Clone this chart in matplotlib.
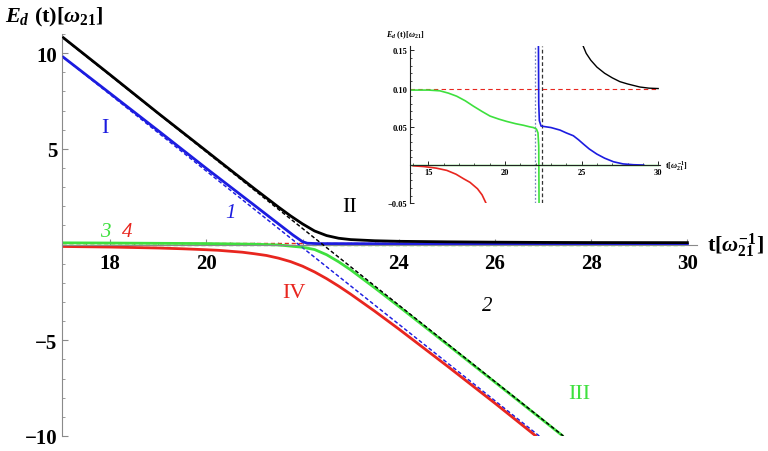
import matplotlib
matplotlib.use("Agg")
import matplotlib.pyplot as plt
from matplotlib.ticker import MultipleLocator

# ── colours ────────────────────────────────────────────────────────────────
BLUE = "#1c1ce0"
GREEN = "#3ee03e"
RED = "#e8261f"
BLACK = "#000000"
AXC = "#8a8a8a"

# ── main panel: levels ─────────────────────────────────────────────────────
t_I = [17.0, 18.0, 19.0, 20.0, 21.0, 21.5, 21.8, 22.0, 22.1, 22.3, 23.0, 24.0, 25.0, 26.0, 27.0, 28.0, 30.0]
E_I = [9.84, 7.90, 5.95, 3.98, 2.05, 1.08, 0.50, 0.15, 0.07, 0.05, 0.047, 0.04, 0.028, 0.013, 0.004, 0.001, 0.0]

t_II = [17.0, 18.0, 19.0, 20.0, 20.5, 21.0, 21.5, 21.75, 22.0, 22.25, 22.5, 22.75, 23.0, 23.5, 24.0, 25.0, 26.0, 27.0, 28.0, 30.0]
E_II = [10.86, 8.87, 6.86, 4.89, 3.90, 2.92, 1.96, 1.50, 1.08, 0.71, 0.47, 0.33, 0.26, 0.20, 0.17, 0.143, 0.125, 0.112, 0.105, 0.10]

t_III = [17.0, 18.0, 19.0, 20.0, 21.0, 21.5, 22.0, 22.25, 22.5, 22.75, 23.0, 23.5, 24.0, 25.0, 26.0, 27.0, 27.4]
E_III = [0.09, 0.08, 0.065, 0.052, 0.018, -0.02, -0.14, -0.26, -0.53, -0.90, -1.32, -2.26, -3.23, -5.20, -7.19, -9.18, -9.98]

t_IV = [17.0, 18.0, 19.0, 19.5, 20.0, 20.25, 20.5, 20.75, 21.0, 21.25, 21.5, 21.75, 22.0, 22.25, 22.5, 22.75,
        23.0, 23.5, 24.0, 25.0, 26.0, 26.85]
E_IV = [-0.10, -0.13, -0.18, -0.22, -0.27, -0.30, -0.35, -0.40, -0.48, -0.57, -0.71, -0.89, -1.13, -1.43, -1.78,
        -2.17, -2.59, -3.48, -4.41, -6.33, -8.29, -10.0]

# diabatic asymptotes (dashed)
t_1 = [17.0, 26.92]
E_1 = [9.84, -10.0]
t_2 = [17.0, 27.42]
E_2 = [10.84, -10.0]
t_34 = [17.0, 30.0]
E_3 = [0.0, 0.0]
E_4 = [0.1, 0.1]

# ── inset ──────────────────────────────────────────────────────────────────
in_t_green = [13.8, 15.0, 15.75, 16.3, 16.84, 17.4, 17.93, 18.5, 19.02, 19.6, 20.11, 20.7, 21.2, 21.6,
              21.85, 22.05, 22.15, 22.2, 22.22]
in_E_green = [0.098, 0.098, 0.097, 0.094, 0.090, 0.084, 0.077, 0.070, 0.064, 0.060, 0.057, 0.054, 0.052, 0.050,
              0.049, 0.047, 0.042, 0.025, -0.05]
in_t_blue = [22.18, 22.2, 22.24, 22.35, 22.5, 23.0, 23.59, 24.0, 24.46, 24.8, 25.12, 25.5, 25.99, 26.5, 27.08,
             27.7, 28.39, 29.05]
in_E_blue = [0.155, 0.08, 0.058, 0.051, 0.0505, 0.049, 0.0457, 0.042, 0.0383, 0.033, 0.0274, 0.021, 0.0144,
             0.009, 0.0043, 0.0015, 0.0004, 0.0]
in_t_black = [25.05, 25.3, 25.6, 26.0, 26.5, 27.0, 27.5, 28.0, 28.8, 29.4, 30.0]
in_E_black = [0.158, 0.146, 0.137, 0.128, 0.120, 0.114, 0.109, 0.106, 0.102, 0.1005, 0.100]
in_t_red = [14.0, 14.7, 15.5, 16.2, 16.8, 17.3, 17.71, 18.2, 18.5, 18.76]
in_E_red = [-0.001, -0.002, -0.004, -0.007, -0.012, -0.018, -0.0226, -0.031, -0.039, -0.05]
in_t_lev = [13.8, 30.0]
in_v1 = 21.96
in_v2 = 22.4

plt.rcParams["mathtext.fontset"] = "custom"
plt.rcParams["mathtext.rm"] = "Liberation Serif:bold"
plt.rcParams["mathtext.it"] = "Liberation Serif:bold:italic"
plt.rcParams["mathtext.bf"] = "Liberation Serif:bold"
SERIF = "Liberation Serif"

fig = plt.figure(figsize=(7.68, 4.52), dpi=100)
ax = fig.add_axes([0.0807, 0.0332, 0.8269, 0.8894])

ax.plot(t_34, E_3, color=GREEN, lw=1.0, ls=(0, (3, 2)))
ax.plot(t_34, E_4, color=RED, lw=1.0, ls=(0, (3, 2)))
ax.plot(t_1, E_1, color=BLUE, lw=0.9, ls=(0, (3, 2)))
ax.plot(t_2, E_2, color=BLACK, lw=0.9, ls=(0, (3, 2)), zorder=4)
ax.plot(t_I, E_I, color=BLUE, lw=2.0)
ax.plot(t_II, E_II, color=BLACK, lw=2.0)
ax.plot(t_III, E_III, color=GREEN, lw=2.0)
ax.plot(t_IV, E_IV, color=RED, lw=2.0)
ax.plot(t_1, E_1, color=BLUE, lw=0.9, ls=(0, (3, 2)), alpha=0.6, zorder=5)
ax.plot(t_2, E_2, color=BLACK, lw=0.9, ls=(0, (3, 2)), alpha=0.6, zorder=5)

ax.set_xlim(17, 30.2)
ax.set_ylim(-10, 11.0)
for s in ["top", "right"]:
    ax.spines[s].set_visible(False)
ax.spines["bottom"].set_position(("data", 0))
ax.spines["left"].set_color(AXC)
ax.spines["bottom"].set_color(AXC)
ax.set_xticks([18, 20, 22, 24, 26, 28, 30])
ax.set_xticklabels(["18", "20", "", "24", "26", "28", "30"])
ax.set_yticks([-10, -5, 5, 10])
ax.xaxis.set_minor_locator(MultipleLocator(0.5))
ax.yaxis.set_minor_locator(MultipleLocator(1))
ax.tick_params(which="major", direction="in", length=4, color=AXC, labelsize=15)
ax.tick_params(which="minor", direction="in", length=2, color=AXC)
ax.tick_params(axis="x", pad=6)
for lab in ax.get_xticklabels() + ax.get_yticklabels():
    lab.set_fontfamily(SERIF)
    lab.set_fontweight("bold")

# labels on the curves
ax.text(17.9, 6.1, "I", color=BLUE, fontsize=16, family=SERIF, ha="center", va="center")
ax.text(22.97, 2.0, "II", color=BLACK, fontsize=16, family=SERIF, ha="center", va="center")
ax.text(27.75, -7.8, "III", color=GREEN, fontsize=16, family=SERIF, ha="center", va="center")
ax.text(21.83, -2.5, "IV", color=RED, fontsize=16, family=SERIF, ha="center", va="center")
ax.text(20.5, 1.7, "1", color=BLUE, fontsize=15, family=SERIF, style="italic", ha="center", va="center")
ax.text(25.84, -3.2, "2", color=BLACK, fontsize=15, family=SERIF, style="italic", ha="center", va="center")
ax.text(17.91, 0.7, "3", color=GREEN, fontsize=15, family=SERIF, style="italic", ha="center", va="center")
ax.text(18.35, 0.7, "4", color=RED, fontsize=15, family=SERIF, style="italic", ha="center", va="center")

fig.text(0.006, 0.962, r"$E_d\ \mathrm{(t)[}\omega_{21}\mathrm{]}$", fontsize=16, ha="left", va="center")
ax.text(30.4, 0.0, r"$\mathrm{t[}\omega_{21}^{-1}\mathrm{]}$", fontsize=16, ha="left", va="center", clip_on=False)

# ── inset ──────────────────────────────────────────────────────────────────
ins = fig.add_axes([0.534, 0.548, 0.325, 0.347])
ins.axvline(in_v1, color="#7a86c0", lw=0.9, ls=(0, (1.5, 1.5)))
ins.axvline(in_v2, color="#333333", lw=0.9, ls=(0, (3, 2)))
ins.plot(in_t_lev, [0.1, 0.1], color=RED, lw=0.8, ls=(0, (4, 3)))
ins.plot(in_t_lev, [0.0, 0.0], color=GREEN, lw=1.0)
ins.plot(in_t_lev, [0.0, 0.0], color="#333333", lw=0.7, ls=(0, (4, 3)))
ins.plot(in_t_green, in_E_green, color=GREEN, lw=1.2)
ins.plot(in_t_blue, in_E_blue, color=BLUE, lw=1.2)
ins.plot(in_t_black, in_E_black, color=BLACK, lw=1.0)
ins.plot(in_t_red, in_E_red, color=RED, lw=1.2)
ins.set_xlim(13.8, 30.1)
ins.set_ylim(-0.05, 0.155)
ins.patch.set_alpha(0)
for s in ["top", "right"]:
    ins.spines[s].set_visible(False)
ins.spines["bottom"].set_position(("data", 0))
ins.spines["left"].set_color("#222222")
ins.spines["bottom"].set_color("#222222")
ins.spines["left"].set_linewidth(0.8)
ins.spines["bottom"].set_linewidth(0.8)
ins.set_xticks([15, 20, 25, 30])
ins.set_yticks([-0.05, 0.05, 0.10, 0.15])
ins.set_yticklabels(["\u22120.05", "0.05", "0.10", "0.15"])
ins.xaxis.set_minor_locator(MultipleLocator(1))
ins.yaxis.set_minor_locator(MultipleLocator(0.01))
ins.tick_params(which="major", direction="in", length=3, width=0.6, labelsize=6, pad=2)
ins.tick_params(which="minor", direction="in", length=1.5, width=0.5)
for lab in ins.get_xticklabels() + ins.get_yticklabels():
    lab.set_fontfamily(SERIF)
    lab.set_fontweight("bold")
fig.text(0.502, 0.922, r"$E_d\ \mathrm{(t)[}\omega_{21}\mathrm{]}$", fontsize=6, ha="left", va="center")
ins.text(30.45, 0.0, r"$\mathrm{t[}\omega_{21}^{-1}\mathrm{]}$", fontsize=6, ha="left", va="center", clip_on=False)

fig.savefig("out.png", dpi=100)
